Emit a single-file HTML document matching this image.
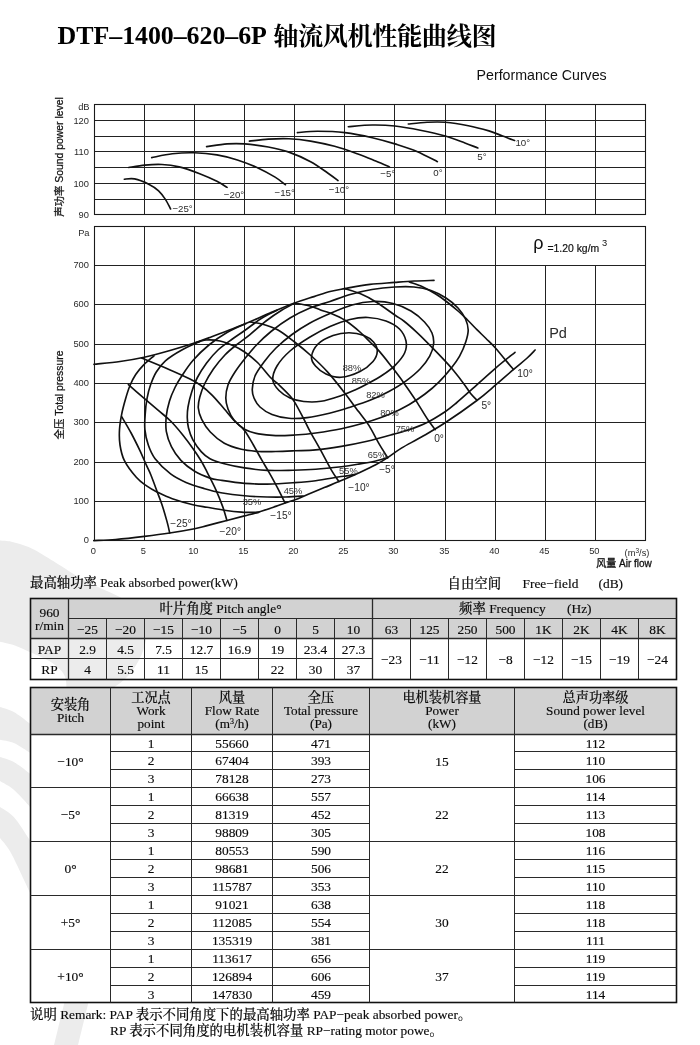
<!DOCTYPE html>
<html lang="zh"><head><meta charset="utf-8"><title>DTF-1400-620-6P 轴流风机性能曲线图</title>
<style>
html,body{margin:0;padding:0;background:#fff;}
body{width:700px;height:1045px;overflow:hidden;position:relative;}
svg{position:absolute;left:0;top:0;display:block;will-change:transform;}
.s{font-family:"Liberation Sans","Noto Sans CJK SC",sans-serif;fill:#2a2a2a;}
.t{font-family:"Liberation Serif","Noto Serif CJK SC",serif;fill:#0a0a0a;stroke:#0a0a0a;stroke-width:0.15px;}
.g line{stroke:#222;stroke-width:1;}
.c path{fill:none;stroke:#111;stroke-width:1.65;stroke-linecap:round;}
.tb line{stroke:#2a2a2a;stroke-width:1;}
</style></head><body>
<svg width="700" height="1045" viewBox="0 0 700 1045">
<g fill="#ececec">
<path d="M0.0 540.6C1.9 540.8 7.6 541.0 11.4 541.7C15.2 542.4 19.1 543.7 22.9 545.0C26.7 546.3 30.5 547.8 34.3 549.7C38.1 551.6 41.9 554.3 45.7 556.6C49.5 558.9 52.0 560.4 57.0 563.4C62.0 566.4 69.7 571.5 75.4 574.9C81.1 578.3 86.1 581.3 91.4 584.0C96.7 586.7 101.4 588.3 107.0 591.0C112.6 593.7 119.8 596.5 125.0 600.0C130.2 603.5 134.7 607.7 138.0 612.0C141.3 616.3 143.7 621.3 145.0 626.0C146.3 630.7 146.8 634.7 146.0 640.0C145.2 645.3 143.0 652.0 140.0 658.0C137.0 664.0 132.5 671.0 128.0 676.0C123.5 681.0 117.7 684.8 113.0 688.0C108.3 691.2 102.2 693.8 100.0 695.0 L66.5 695.0C66.4 692.6 66.6 684.4 66.0 680.7C65.4 677.0 64.7 675.5 63.0 673.0C61.3 670.5 58.5 667.8 55.7 665.5C52.9 663.2 50.7 661.8 46.4 659.5C42.1 657.2 35.0 654.4 29.7 652.0C24.4 649.6 19.9 647.1 14.9 645.4C9.9 643.7 2.5 642.3 0.0 641.7 Z"/>
<path d="M0.0 707.0C2.3 707.8 9.1 709.4 13.8 712.0C18.5 714.6 25.5 720.2 28.4 722.4C31.3 724.6 30.6 724.6 31.0 725.0 L31.0 754.0C30.6 753.6 31.3 753.5 28.4 751.7C25.5 749.9 18.5 745.0 13.8 743.0C9.1 741.0 2.3 740.2 0.0 739.7 Z"/>
<path d="M0.0 757.0C2.3 757.8 9.1 759.4 13.8 762.0C18.5 764.6 25.5 770.2 28.4 772.4C31.3 774.6 30.6 774.6 31.0 775.0 L31.0 809.0C30.6 808.3 31.3 808.2 28.4 805.0C25.5 801.8 18.5 793.7 13.8 789.7C9.1 785.7 2.3 782.5 0.0 781.0 Z"/>
<path d="M0.0 807.0C2.3 808.7 9.1 811.8 13.8 817.0C18.5 822.2 25.5 833.7 28.4 838.0C31.3 842.3 30.6 842.2 31.0 843.0 L31.0 895.0C29.8 892.5 27.4 887.2 24.0 880.0C20.6 872.8 14.3 858.7 10.3 851.7C6.3 844.7 1.7 840.3 0.0 838.0 Z"/>
<path d="M65 1000 L89 1000 L78 1045 L54 1045 Z"/>
</g>
<text x="57.6" y="44.2" textLength="209.3" lengthAdjust="spacing" style="font-family:'Liberation Serif',serif;font-weight:bold;font-size:25.9px;fill:#000">DTF–1400–620–6P</text>
<text x="273.2" y="45.0" textLength="223.4" lengthAdjust="spacing" style="font-family:'Noto Serif CJK SC','Liberation Serif',serif;font-weight:700;font-size:25.2px;fill:#000">轴流风机性能曲线图</text>
<text x="476.6" y="80" class="s" style="font-size:14.2px;fill:#111">Performance Curves</text>
<g class="g">
<line x1="94.5" y1="104.5" x2="94.5" y2="214.5"/>
<line x1="144.5" y1="104.5" x2="144.5" y2="214.5"/>
<line x1="194.5" y1="104.5" x2="194.5" y2="214.5"/>
<line x1="244.5" y1="104.5" x2="244.5" y2="214.5"/>
<line x1="294.5" y1="104.5" x2="294.5" y2="214.5"/>
<line x1="344.5" y1="104.5" x2="344.5" y2="214.5"/>
<line x1="394.5" y1="104.5" x2="394.5" y2="214.5"/>
<line x1="445.5" y1="104.5" x2="445.5" y2="214.5"/>
<line x1="495.5" y1="104.5" x2="495.5" y2="214.5"/>
<line x1="545.5" y1="104.5" x2="545.5" y2="214.5"/>
<line x1="595.5" y1="104.5" x2="595.5" y2="214.5"/>
<line x1="645.5" y1="104.5" x2="645.5" y2="214.5"/>
<line x1="94.5" y1="104.5" x2="645.5" y2="104.5"/>
<line x1="94.5" y1="120.5" x2="645.5" y2="120.5"/>
<line x1="94.5" y1="136.5" x2="645.5" y2="136.5"/>
<line x1="94.5" y1="151.5" x2="645.5" y2="151.5"/>
<line x1="94.5" y1="167.5" x2="645.5" y2="167.5"/>
<line x1="94.5" y1="183.5" x2="645.5" y2="183.5"/>
<line x1="94.5" y1="199.5" x2="645.5" y2="199.5"/>
<line x1="94.5" y1="214.5" x2="645.5" y2="214.5"/>
<line x1="94.5" y1="226.5" x2="94.5" y2="540.5"/>
<line x1="144.5" y1="226.5" x2="144.5" y2="540.5"/>
<line x1="194.5" y1="226.5" x2="194.5" y2="540.5"/>
<line x1="244.5" y1="226.5" x2="244.5" y2="540.5"/>
<line x1="294.5" y1="226.5" x2="294.5" y2="540.5"/>
<line x1="344.5" y1="226.5" x2="344.5" y2="540.5"/>
<line x1="394.5" y1="226.5" x2="394.5" y2="540.5"/>
<line x1="445.5" y1="226.5" x2="445.5" y2="540.5"/>
<line x1="495.5" y1="226.5" x2="495.5" y2="540.5"/>
<line x1="545.5" y1="265.5" x2="545.5" y2="540.5"/>
<line x1="595.5" y1="265.5" x2="595.5" y2="540.5"/>
<line x1="645.5" y1="226.5" x2="645.5" y2="540.5"/>
<line x1="94.5" y1="540.5" x2="645.5" y2="540.5"/>
<line x1="94.5" y1="501.5" x2="645.5" y2="501.5"/>
<line x1="94.5" y1="462.5" x2="645.5" y2="462.5"/>
<line x1="94.5" y1="422.5" x2="645.5" y2="422.5"/>
<line x1="94.5" y1="383.5" x2="645.5" y2="383.5"/>
<line x1="94.5" y1="344.5" x2="645.5" y2="344.5"/>
<line x1="94.5" y1="304.5" x2="645.5" y2="304.5"/>
<line x1="94.5" y1="265.5" x2="645.5" y2="265.5"/>
<line x1="94.5" y1="226.5" x2="645.5" y2="226.5"/>
</g>
<g fill="none" stroke="#1a1a1a" stroke-width="1.1"><rect x="94.5" y="104.5" width="551.0" height="110.0"/><rect x="94.5" y="226.5" width="551.0" height="314.0"/></g>
<g class="c">
<path d="M124.3 179.2C126.0 179.1 130.6 178.1 134.6 178.9C138.6 179.7 144.3 182.0 148.3 184.0C152.3 186.0 155.8 188.3 158.6 190.9C161.4 193.5 163.4 196.4 165.4 199.4C167.4 202.4 169.7 207.4 170.6 209.0"/>
<path d="M128.7 167.5C131.4 167.1 139.3 165.6 144.9 165.1C150.5 164.6 156.3 164.2 162.0 164.5C167.7 164.8 172.8 165.4 179.1 166.9C185.4 168.4 193.4 171.3 199.7 173.7C206.0 176.1 212.3 179.0 216.9 181.3C221.5 183.6 225.4 186.4 227.1 187.4"/>
<path d="M151.7 157.6C155.1 157.0 165.2 154.6 172.3 153.8C179.4 153.0 186.9 152.6 194.3 152.8C201.7 153.0 209.7 153.7 216.9 154.9C224.1 156.1 230.6 157.8 237.4 160.0C244.2 162.2 251.7 165.1 258.0 167.9C264.3 170.8 270.5 174.3 275.1 177.1C279.7 179.9 283.7 183.4 285.4 184.7"/>
<path d="M206.6 146.6C210.0 146.2 220.8 144.3 227.1 143.9C233.4 143.5 237.7 143.4 244.6 143.9C251.5 144.4 260.9 145.6 268.3 147.0C275.7 148.4 281.8 149.7 288.9 152.1C295.9 154.5 304.1 158.2 310.6 161.7C317.1 165.2 323.1 169.8 327.7 173.0C332.3 176.2 336.3 179.3 338.0 180.6"/>
<path d="M249.4 141.1C252.6 140.8 261.7 139.5 268.3 139.1C274.9 138.7 281.8 138.4 288.9 138.7C295.9 139.0 303.0 139.8 310.6 141.1C318.2 142.4 326.6 144.1 334.6 146.3C342.6 148.5 351.8 151.8 358.6 154.2C365.5 156.6 370.6 158.9 375.7 161.0C380.8 163.1 387.1 165.9 389.4 166.9"/>
<path d="M297.4 132.6C300.7 132.4 309.5 131.2 317.4 131.2C325.3 131.2 335.8 131.5 344.9 132.6C354.0 133.7 364.0 135.8 372.3 137.7C380.6 139.6 387.5 141.6 394.9 143.9C402.3 146.2 409.8 148.4 416.9 151.4C424.0 154.4 434.0 160.0 437.4 161.7"/>
<path d="M348.3 126.7C352.3 126.4 364.5 125.1 372.3 125.0C380.1 124.9 386.9 125.1 394.9 126.0C402.9 126.9 411.9 128.5 420.3 130.2C428.7 131.9 437.9 133.9 445.3 136.0C452.7 138.1 459.5 140.9 464.9 142.9C470.3 144.9 475.7 147.2 477.9 148.0"/>
<path d="M408.3 124.0C411.4 123.7 420.9 122.6 427.1 122.3C433.3 122.0 438.4 121.7 445.3 122.3C452.2 122.9 461.0 124.3 468.3 125.7C475.6 127.1 483.2 129.2 488.9 130.9C494.6 132.6 498.3 134.4 502.6 136.0C506.9 137.6 512.6 139.8 514.6 140.5"/>
<path d="M94.0 364.3C98.3 363.8 111.6 362.7 120.0 361.5C128.4 360.3 135.9 359.0 144.2 357.2C152.5 355.4 161.6 352.9 170.0 350.5C178.4 348.1 187.7 345.2 194.4 343.0C201.1 340.8 201.6 340.6 210.0 337.4C218.4 334.2 234.6 328.1 244.6 324.0C254.6 319.9 261.7 316.5 270.0 313.0C278.3 309.5 287.3 305.7 294.6 303.0C301.9 300.3 308.1 298.5 314.0 296.6C319.9 294.7 324.9 292.8 330.0 291.5C335.1 290.2 337.9 289.8 344.6 288.6C351.3 287.4 361.6 285.4 370.0 284.4C378.4 283.4 387.5 283.0 394.8 282.4C402.1 281.8 407.5 281.3 414.0 281.0C420.5 280.7 430.7 280.5 434.0 280.4"/>
<path d="M93.8 540.6C97.5 540.4 107.2 540.2 115.7 539.5C124.2 538.8 135.5 537.5 144.5 536.4C153.5 535.3 161.3 534.3 169.7 533.0C178.0 531.7 188.4 529.9 194.6 528.7C200.8 527.5 201.7 527.0 207.1 525.6C212.5 524.2 220.7 522.1 226.9 520.5C233.1 518.9 239.2 517.3 244.5 515.9C249.8 514.5 253.4 513.7 258.6 512.1C263.8 510.5 271.3 507.9 275.7 506.4C280.1 504.9 281.1 504.4 285.1 503.0C289.1 501.6 295.6 499.5 299.7 497.9C303.8 496.3 305.9 495.3 310.0 493.6C314.1 491.9 319.5 489.6 324.3 487.6C329.1 485.6 333.2 484.0 338.9 481.6C344.6 479.2 352.5 475.8 358.6 473.0C364.7 470.2 370.9 467.4 375.7 464.8C380.5 462.2 383.4 460.4 387.7 457.6C392.0 454.8 395.8 451.5 401.4 448.1C407.0 444.7 414.1 441.2 421.4 437.0C428.7 432.8 435.9 428.9 445.1 422.8C454.4 416.7 468.5 406.8 476.9 400.5C485.3 394.2 489.3 390.4 495.4 385.2C501.5 380.0 508.4 373.8 513.6 369.4C518.8 364.9 523.0 361.7 526.6 358.5C530.2 355.3 533.7 351.4 535.1 350.0"/>
<path d="M121.7 416.7C123.3 419.4 128.1 427.4 131.1 433.0C134.1 438.6 137.1 444.7 139.7 450.1C142.3 455.5 144.7 461.5 146.6 465.6C148.5 469.8 149.2 470.8 150.9 475.0C152.6 479.2 155.1 486.1 156.9 491.0C158.8 495.9 160.3 499.6 162.0 504.7C163.7 509.8 165.8 517.2 167.1 521.9C168.4 526.6 169.3 531.1 169.7 533.0"/>
<path d="M128.4 384.6C131.1 387.0 139.5 394.4 144.5 398.7C149.5 403.0 154.2 407.0 158.6 410.7C162.9 414.4 166.6 417.0 170.6 421.0C174.6 425.0 178.9 430.1 182.6 434.7C186.3 439.3 189.9 444.2 192.9 448.4C195.9 452.6 198.2 456.1 200.6 460.0C203.0 463.9 204.6 467.2 207.1 472.1C209.6 477.0 213.1 483.6 215.7 489.3C218.3 495.0 220.7 501.2 222.6 506.4C224.5 511.6 226.2 518.1 226.9 520.5"/>
<path d="M141.6 358.0C146.2 359.9 160.9 365.9 169.0 369.4C177.1 372.9 184.8 376.4 190.0 379.0C195.2 381.6 196.6 382.3 200.3 385.0C204.0 387.7 208.3 391.3 212.3 395.3C216.3 399.3 220.6 404.7 224.3 409.0C228.0 413.3 231.2 417.4 234.6 421.0C238.0 424.6 241.4 426.4 244.5 430.4C247.6 434.4 250.5 440.0 253.4 445.0C256.3 450.0 259.4 455.9 262.0 460.4C264.6 464.9 266.3 467.6 268.9 472.1C271.5 476.6 274.7 482.5 277.4 487.6C280.1 492.8 283.8 500.4 285.1 503.0"/>
<path d="M194.6 343.0C196.5 342.5 201.8 340.3 206.0 340.0C210.2 339.7 215.3 340.0 220.0 341.0C224.7 342.0 229.9 344.2 234.0 346.0C238.1 347.8 240.6 349.2 244.6 352.0C248.6 354.8 253.8 358.8 258.0 363.0C262.2 367.2 266.5 373.3 270.0 377.0C273.5 380.7 275.9 381.9 279.1 385.0C282.3 388.1 286.8 392.4 289.4 395.3C292.0 398.2 292.3 398.4 294.6 402.1C296.9 405.8 300.5 412.7 303.1 417.6C305.7 422.5 307.0 425.8 310.0 431.3C313.0 436.8 317.4 444.3 320.9 450.7C324.4 457.1 328.1 464.5 331.1 469.6C334.1 474.8 337.6 479.6 338.9 481.6"/>
<path d="M250.0 322.0C252.0 322.3 257.3 322.7 262.0 324.0C266.7 325.3 272.6 327.0 278.0 330.0C283.4 333.0 289.0 337.7 294.6 342.0C300.2 346.3 305.9 351.0 311.4 356.0C316.9 361.0 322.2 366.0 327.7 372.1C333.2 378.2 339.4 386.1 344.5 392.7C349.6 399.3 354.5 406.2 358.6 411.6C362.7 417.1 365.5 420.0 368.9 425.4C372.3 430.8 376.0 438.5 379.1 443.9C382.2 449.3 386.3 455.3 387.7 457.6"/>
<path d="M294.6 303.0C297.2 303.5 305.4 304.8 310.0 306.0C314.6 307.2 318.7 309.3 322.0 310.5C325.3 311.7 326.2 311.4 330.0 313.0C333.8 314.6 339.6 316.8 344.6 320.0C349.6 323.2 355.8 328.3 360.0 332.0C364.2 335.7 366.8 338.8 370.0 342.0C373.2 345.2 375.7 347.2 379.4 351.4C383.1 355.6 387.9 361.9 392.0 367.1C396.1 372.4 399.9 377.4 403.8 382.9C407.7 388.4 411.6 393.9 415.6 400.1C419.7 406.3 424.8 415.1 428.1 420.0C431.4 424.9 434.0 428.0 435.2 429.6"/>
<path d="M344.6 288.6C347.2 289.4 354.8 291.4 360.0 293.6C365.2 295.8 370.2 298.4 376.0 302.0C381.8 305.6 390.2 311.8 394.8 315.0C399.4 318.2 400.1 318.1 403.8 321.0C407.5 323.9 412.5 328.3 417.1 332.6C421.7 336.9 426.7 342.0 431.3 346.7C435.9 351.4 441.3 357.0 445.0 360.9C448.7 364.8 450.1 366.4 453.3 370.3C456.5 374.2 461.4 380.5 464.3 384.4C467.2 388.3 468.5 390.9 470.6 393.5C472.7 396.1 475.8 399.0 476.9 400.1"/>
<path d="M409.4 282.0C411.5 282.8 417.6 284.5 422.0 286.5C426.4 288.5 431.5 291.4 435.7 294.0C439.9 296.6 443.2 299.1 447.0 302.0C450.8 304.9 455.1 308.4 458.6 311.5C462.1 314.6 464.9 317.5 468.0 320.5C471.1 323.5 473.9 326.6 476.9 329.6C479.9 332.6 482.9 335.4 486.0 338.5C489.1 341.6 492.0 344.2 495.4 348.0C498.8 351.8 503.6 357.8 506.6 361.4C509.6 365.0 512.3 368.1 513.4 369.4"/>
<path d="M154.0 355.8C152.3 357.3 146.8 361.7 143.7 364.8C140.6 367.9 138.0 371.1 135.7 374.5C133.4 377.9 131.7 381.5 130.0 385.5C128.3 389.5 127.0 393.9 125.6 398.7C124.2 403.5 122.7 409.0 121.7 414.1C120.7 419.2 119.8 424.5 119.5 429.6C119.2 434.8 119.2 439.9 120.0 445.0C120.8 450.1 121.6 455.0 124.3 460.4C127.0 465.8 132.6 473.1 136.3 477.3C140.0 481.6 143.2 483.5 146.6 485.9C150.0 488.3 152.6 489.8 156.9 491.9C161.2 494.0 166.3 496.6 172.3 498.7C178.3 500.8 187.1 503.3 192.9 504.7C198.7 506.1 201.9 506.4 207.1 507.3C212.3 508.2 218.6 509.4 224.3 510.2C230.0 511.0 235.7 511.7 241.4 512.1C247.1 512.5 255.7 512.4 258.6 512.4"/>
<path d="M200.0 341.5C196.9 342.9 187.2 347.0 181.4 350.2C175.6 353.4 169.6 357.2 165.4 360.8C161.2 364.4 158.8 368.0 156.3 372.0C153.8 376.0 152.1 380.6 150.5 385.0C148.9 389.4 147.9 393.8 147.0 398.7C146.1 403.6 145.5 409.0 145.2 414.1C144.8 419.2 144.4 424.5 144.9 429.6C145.4 434.8 146.6 440.1 148.3 445.0C150.0 449.9 151.4 453.9 155.1 458.7C158.8 463.5 165.4 469.9 170.6 473.9C175.8 477.8 180.5 480.0 186.0 482.4C191.5 484.8 197.9 486.7 203.7 488.4C209.5 490.1 214.1 491.5 220.9 492.7C227.7 493.9 236.8 495.1 244.5 495.8C252.2 496.5 260.2 496.8 267.1 497.0C274.0 497.2 280.0 497.2 286.0 497.0C292.0 496.8 300.2 496.2 303.1 496.0"/>
<path d="M246.0 323.5C242.8 325.0 233.2 328.9 227.0 332.5C220.8 336.1 214.6 340.3 208.9 345.0C203.2 349.7 197.5 355.2 192.9 360.5C188.3 365.8 184.4 372.0 181.4 376.5C178.4 381.0 177.0 383.4 175.0 387.5C173.0 391.6 170.9 396.3 169.5 401.0C168.1 405.7 166.8 410.8 166.3 415.9C165.8 420.9 165.5 426.2 166.3 431.3C167.2 436.4 169.0 441.9 171.4 446.7C173.8 451.5 177.0 456.3 180.9 460.4C184.8 464.5 189.8 468.4 194.6 471.3C199.4 474.2 205.6 476.6 210.0 478.1C214.4 479.6 215.2 479.4 220.9 480.3C226.7 481.2 236.8 482.8 244.5 483.4C252.2 484.0 259.0 484.2 267.1 484.1C275.2 484.0 284.8 483.4 292.9 482.8C301.0 482.2 308.2 481.7 315.7 480.7C323.2 479.7 332.9 477.8 338.0 477.0C343.1 476.2 343.8 476.3 346.6 475.9C349.5 475.5 353.7 474.6 355.1 474.4"/>
<path d="M277.0 310.3C274.5 311.6 267.3 314.7 262.0 318.0C256.7 321.3 250.5 326.4 245.4 330.0C240.3 333.6 236.3 336.2 231.7 339.5C227.1 342.8 222.2 346.1 218.0 350.0C213.8 353.9 210.0 358.4 206.6 363.0C203.2 367.6 199.9 372.7 197.4 377.5C194.9 382.3 193.3 387.1 191.7 392.0C190.1 396.9 188.7 402.7 188.0 407.0C187.3 411.3 187.2 414.5 187.3 418.0C187.4 421.5 187.6 424.4 188.5 428.0C189.4 431.6 190.8 435.9 192.9 439.9C195.1 443.9 198.6 448.8 201.4 451.9C204.2 455.0 206.2 456.7 210.0 458.7C213.8 460.7 218.6 462.2 224.3 463.7C230.1 465.2 237.4 466.8 244.5 467.9C251.6 469.0 259.0 470.0 267.1 470.4C275.2 470.8 284.8 470.4 292.9 470.2C301.0 470.0 307.6 469.8 315.7 469.2C323.8 468.6 334.2 467.5 341.4 466.7C348.5 465.9 352.9 465.1 358.6 464.1C364.3 463.2 370.9 462.1 375.7 461.0C380.5 459.9 385.7 458.2 387.7 457.6"/>
<path d="M295.0 303.0C292.8 304.2 286.8 307.0 282.0 310.0C277.2 313.0 271.3 316.9 266.0 321.0C260.7 325.1 254.9 330.6 250.0 334.6C245.1 338.6 240.5 341.6 236.3 345.0C232.1 348.4 228.7 351.0 224.9 355.0C221.1 359.0 216.8 364.2 213.4 369.0C210.1 373.8 207.1 378.8 204.8 383.5C202.5 388.2 200.9 392.9 199.8 397.0C198.7 401.1 198.0 404.3 198.3 408.0C198.6 411.7 199.7 415.3 201.7 419.3C203.7 423.3 206.5 428.0 210.3 432.0C214.1 436.0 219.1 440.4 224.3 443.3C229.5 446.2 235.7 447.9 241.4 449.3C247.1 450.7 252.9 451.1 258.6 451.5C264.3 451.9 269.7 451.6 275.7 451.5C281.7 451.4 287.9 451.1 294.6 450.8C301.3 450.5 307.9 450.6 315.7 449.9C323.5 449.2 332.8 447.8 341.4 446.4C350.0 445.0 358.5 443.3 367.1 441.3C375.7 439.3 385.8 436.4 392.9 434.4C400.0 432.4 404.3 431.4 410.0 429.4C415.7 427.4 421.1 425.4 427.0 422.5C432.9 419.6 440.2 414.9 445.1 411.7C450.0 408.4 451.8 406.8 456.3 403.0C460.8 399.2 465.8 394.7 472.3 388.9C478.8 383.1 488.3 374.4 495.4 368.3C502.5 362.2 511.7 355.0 515.0 352.3"/>
<path d="M225.8 398.0C225.8 394.0 226.5 389.3 228.0 385.0C229.5 380.7 232.2 376.3 235.0 372.0C237.8 367.7 241.1 363.4 244.6 359.0C248.1 354.6 251.6 350.1 256.0 345.5C260.4 340.9 265.3 336.1 271.0 331.5C276.7 326.9 283.5 321.9 290.0 318.0C296.5 314.1 303.3 310.8 310.0 308.0C316.7 305.2 323.3 303.8 330.0 301.5C336.7 299.2 343.0 296.5 350.0 294.5C357.0 292.5 364.5 290.8 372.0 289.5C379.5 288.2 387.8 287.4 394.8 287.0C401.8 286.6 408.0 286.4 414.0 287.0C420.0 287.6 425.7 288.7 431.0 290.5C436.3 292.3 441.5 295.1 446.0 298.0C450.5 300.9 454.8 304.5 458.0 308.0C461.2 311.5 463.8 315.3 465.5 319.0C467.2 322.7 468.1 326.2 468.2 330.0C468.3 333.8 467.3 337.1 465.9 341.5C464.5 345.9 462.0 351.8 459.6 356.1C457.2 360.4 455.1 363.2 451.7 367.5C448.3 371.8 443.6 377.4 439.1 381.8C434.7 386.2 430.0 390.2 425.0 394.0C420.0 397.8 414.3 401.5 409.3 404.5C404.3 407.5 399.8 409.6 395.1 411.8C390.4 414.0 386.2 415.6 381.0 417.5C375.8 419.4 370.6 421.1 364.0 423.0C357.4 424.9 349.4 427.0 341.4 428.7C333.3 430.4 323.5 431.9 315.7 433.0C307.9 434.1 301.3 434.6 294.6 435.0C287.9 435.4 281.7 435.8 275.7 435.6C269.7 435.4 263.7 434.9 258.6 433.9C253.5 432.9 249.1 431.8 245.0 429.5C240.9 427.2 236.8 423.4 234.0 420.0C231.2 416.6 229.4 412.7 228.0 409.0C226.6 405.3 225.8 402.0 225.8 398.0Z"/>
<path d="M252.3 389.0C252.5 385.3 253.1 380.5 255.0 376.0C256.9 371.5 260.5 366.7 264.0 362.0C267.5 357.3 271.3 352.6 276.0 348.0C280.7 343.4 286.3 338.7 292.0 334.5C297.7 330.3 303.7 326.5 310.0 323.0C316.3 319.5 323.0 316.5 330.0 313.5C337.0 310.5 344.8 307.0 352.0 305.0C359.2 303.0 366.2 301.8 373.0 301.5C379.8 301.2 386.7 301.9 393.0 303.5C399.3 305.1 405.8 307.9 411.0 311.0C416.2 314.1 421.0 318.3 424.5 322.0C428.0 325.7 430.5 329.3 432.0 333.0C433.5 336.7 434.0 340.1 433.6 344.0C433.2 347.9 431.9 352.0 429.7 356.1C427.5 360.2 424.2 364.6 420.3 368.7C416.4 372.8 411.3 377.0 406.1 380.8C400.9 384.6 394.9 388.2 388.9 391.5C382.9 394.8 376.5 397.7 370.0 400.3C363.5 402.9 356.8 405.0 350.0 407.2C343.2 409.4 336.5 411.6 329.4 413.3C322.2 415.0 313.8 416.8 307.1 417.6C300.4 418.4 294.9 418.8 289.0 418.3C283.1 417.8 276.8 416.4 272.0 414.5C267.2 412.6 263.0 409.8 260.0 407.0C257.0 404.2 255.3 401.0 254.0 398.0C252.7 395.0 252.1 392.7 252.3 389.0Z"/>
<path d="M272.8 380.0C272.5 375.9 274.1 370.8 277.0 366.0C279.9 361.2 284.5 355.8 290.0 351.0C295.5 346.2 303.3 341.1 310.0 337.0C316.7 332.9 323.3 329.4 330.0 326.5C336.7 323.6 343.7 321.0 350.0 319.5C356.3 318.0 362.0 317.2 368.0 317.5C374.0 317.8 380.8 319.1 386.0 321.0C391.2 322.9 396.2 325.7 399.5 329.0C402.8 332.3 405.1 337.0 406.0 341.0C406.9 345.0 406.4 348.9 404.6 353.0C402.8 357.1 398.8 361.6 395.1 365.3C391.4 369.0 387.1 372.0 382.6 375.0C378.1 378.0 372.6 381.0 368.0 383.5C363.4 386.0 359.4 388.0 355.0 390.0C350.6 392.0 347.1 393.6 341.4 395.5C335.7 397.4 327.3 400.3 321.0 401.3C314.7 402.3 308.9 402.1 303.7 401.5C298.5 400.9 294.1 399.8 290.0 398.0C285.9 396.2 281.9 393.5 279.0 390.5C276.1 387.5 273.1 384.1 272.8 380.0Z"/>
<path d="M311.5 357.0C311.9 353.3 314.4 347.6 318.0 344.0C321.6 340.4 327.8 337.4 333.0 335.5C338.2 333.6 343.8 332.7 349.0 332.7C354.2 332.7 359.9 333.9 364.0 335.5C368.1 337.1 371.3 339.4 373.5 342.0C375.7 344.6 377.4 347.8 377.3 351.0C377.2 354.2 375.9 358.1 373.0 361.5C370.1 364.9 365.3 368.9 360.0 371.5C354.7 374.1 346.7 376.9 341.0 377.3C335.3 377.7 330.2 375.9 326.0 374.0C321.8 372.1 317.9 368.8 315.5 366.0C313.1 363.2 311.1 360.7 311.5 357.0Z"/>
</g>
<text x="89.5" y="109.8" class="s" text-anchor="end" style="font-size:9.3px;">dB</text>
<text x="88.9" y="123.6" class="s" text-anchor="end" style="font-size:9.3px;">120</text>
<text x="88.9" y="154.6" class="s" text-anchor="end" style="font-size:9.3px;">110</text>
<text x="88.9" y="186.6" class="s" text-anchor="end" style="font-size:9.3px;">100</text>
<text x="88.9" y="217.6" class="s" text-anchor="end" style="font-size:9.3px;">90</text>
<text x="89.5" y="236.0" class="s" text-anchor="end" style="font-size:9.3px;">Pa</text>
<text x="88.9" y="542.7" class="s" text-anchor="end" style="font-size:9.3px;">0</text>
<text x="88.9" y="503.7" class="s" text-anchor="end" style="font-size:9.3px;">100</text>
<text x="88.9" y="464.7" class="s" text-anchor="end" style="font-size:9.3px;">200</text>
<text x="88.9" y="424.7" class="s" text-anchor="end" style="font-size:9.3px;">300</text>
<text x="88.9" y="385.7" class="s" text-anchor="end" style="font-size:9.3px;">400</text>
<text x="88.9" y="346.7" class="s" text-anchor="end" style="font-size:9.3px;">500</text>
<text x="88.9" y="306.7" class="s" text-anchor="end" style="font-size:9.3px;">600</text>
<text x="88.9" y="267.7" class="s" text-anchor="end" style="font-size:9.3px;">700</text>
<text x="93.3" y="554.2" class="s" text-anchor="middle" style="font-size:9.3px;">0</text>
<text x="143.3" y="554.2" class="s" text-anchor="middle" style="font-size:9.3px;">5</text>
<text x="193.3" y="554.2" class="s" text-anchor="middle" style="font-size:9.3px;">10</text>
<text x="243.3" y="554.2" class="s" text-anchor="middle" style="font-size:9.3px;">15</text>
<text x="293.3" y="554.2" class="s" text-anchor="middle" style="font-size:9.3px;">20</text>
<text x="343.3" y="554.2" class="s" text-anchor="middle" style="font-size:9.3px;">25</text>
<text x="393.3" y="554.2" class="s" text-anchor="middle" style="font-size:9.3px;">30</text>
<text x="444.3" y="554.2" class="s" text-anchor="middle" style="font-size:9.3px;">35</text>
<text x="494.3" y="554.2" class="s" text-anchor="middle" style="font-size:9.3px;">40</text>
<text x="544.3" y="554.2" class="s" text-anchor="middle" style="font-size:9.3px;">45</text>
<text x="594.3" y="554.2" class="s" text-anchor="middle" style="font-size:9.3px;">50</text>
<text x="637.0" y="555.5" class="s" text-anchor="middle" style="font-size:9.3px;">(m<tspan font-size="6.5px" dy="-3">3</tspan><tspan dy="3">/s)</tspan></text>
<text x="624.0" y="566.6" class="s" text-anchor="middle" style="font-size:10px;fill:#111;stroke:#111;stroke-width:0.3px">风量 Air flow</text>
<text transform="translate(62.8,157) rotate(-90)" class="s" text-anchor="middle" style="font-size:10.4px;fill:#111;stroke:#111;stroke-width:0.25px">声功率 Sound power level</text>
<text transform="translate(62.8,395) rotate(-90)" class="s" text-anchor="middle" style="font-size:10.4px;fill:#111;stroke:#111;stroke-width:0.25px">全压 Total pressure</text>
<text x="533.3" y="248.8" class="s" style="font-size:18px;fill:#111">ρ</text>
<text x="547.5" y="251.8" class="s" style="font-size:10.4px;fill:#111;stroke:#111;stroke-width:0.2px">=1.20 kg/m</text>
<text x="602" y="246.3" class="s" style="font-size:9.3px;fill:#111">3</text>
<text x="558.0" y="338.3" class="s" text-anchor="middle" style="font-size:14.5px;">Pd</text>
<text x="181.0" y="527.0" class="s" text-anchor="middle" style="font-size:10.2px;">−25°</text>
<text x="230.3" y="534.5" class="s" text-anchor="middle" style="font-size:10.2px;">−20°</text>
<text x="281.0" y="518.5" class="s" text-anchor="middle" style="font-size:10.2px;">−15°</text>
<text x="359.0" y="490.5" class="s" text-anchor="middle" style="font-size:10.2px;">−10°</text>
<text x="387.0" y="473.0" class="s" text-anchor="middle" style="font-size:10.2px;">−5°</text>
<text x="439.0" y="442.4" class="s" text-anchor="middle" style="font-size:10.2px;">0°</text>
<text x="486.3" y="408.5" class="s" text-anchor="middle" style="font-size:10.2px;">5°</text>
<text x="525.0" y="377.4" class="s" text-anchor="middle" style="font-size:10.2px;">10°</text>
<text x="252.0" y="504.8" class="s" text-anchor="middle" style="font-size:9.3px;fill:#333">35%</text>
<text x="293.0" y="493.8" class="s" text-anchor="middle" style="font-size:9.3px;fill:#333">45%</text>
<text x="348.4" y="474.0" class="s" text-anchor="middle" style="font-size:9.3px;fill:#333">55%</text>
<text x="377.0" y="457.8" class="s" text-anchor="middle" style="font-size:9.3px;fill:#333">65%</text>
<text x="405.0" y="431.5" class="s" text-anchor="middle" style="font-size:9.3px;fill:#333">75%</text>
<text x="389.5" y="416.0" class="s" text-anchor="middle" style="font-size:9.3px;fill:#333">80%</text>
<text x="375.5" y="397.8" class="s" text-anchor="middle" style="font-size:9.3px;fill:#333">82%</text>
<text x="361.0" y="383.7" class="s" text-anchor="middle" style="font-size:9.3px;fill:#333">85%</text>
<text x="352.0" y="371.2" class="s" text-anchor="middle" style="font-size:9.3px;fill:#333">88%</text>
<text x="182.6" y="212.4" class="s" text-anchor="middle" style="font-size:9.7px;">−25°</text>
<text x="234.0" y="198.4" class="s" text-anchor="middle" style="font-size:9.7px;">−20°</text>
<text x="284.7" y="196.0" class="s" text-anchor="middle" style="font-size:9.7px;">−15°</text>
<text x="338.9" y="193.2" class="s" text-anchor="middle" style="font-size:9.7px;">−10°</text>
<text x="387.7" y="177.1" class="s" text-anchor="middle" style="font-size:9.7px;">−5°</text>
<text x="437.9" y="176.4" class="s" text-anchor="middle" style="font-size:9.7px;">0°</text>
<text x="482.0" y="160.0" class="s" text-anchor="middle" style="font-size:9.7px;">5°</text>
<text x="522.8" y="146.3" class="s" text-anchor="middle" style="font-size:9.7px;">10°</text>
<text x="30.0" y="587.3" class="t" text-anchor="start" style="font-size:13.4px;"><tspan font-weight="500">最高轴功率</tspan> <tspan font-size="12.9px">Peak absorbed power(kW)</tspan></text>
<text x="447.5" y="587.8" class="t" style="font-size:13.4px;font-weight:500">自由空间</text>
<text x="522.5" y="587.8" class="t" style="font-size:13.4px">Free−field</text>
<text x="598.5" y="587.8" class="t" style="font-size:13.4px">(dB)</text>
<rect x="30.5" y="598.5" width="646.0" height="40.0" fill="#d2d2d2"/>
<g class="tb">
<rect x="30.5" y="598.5" width="646.0" height="81.0" fill="none" stroke="#111" stroke-width="1.6"/>
<line x1="68.5" y1="618.5" x2="676.5" y2="618.5"/>
<line x1="30.5" y1="638.5" x2="676.5" y2="638.5" style="stroke-width:1.3"/>
<line x1="30.5" y1="658.5" x2="372.5" y2="658.5"/>
<line x1="68.5" y1="598.5" x2="68.5" y2="679.5" style="stroke-width:1.3"/>
<line x1="106.5" y1="618.5" x2="106.5" y2="679.5"/>
<line x1="144.5" y1="618.5" x2="144.5" y2="679.5"/>
<line x1="182.5" y1="618.5" x2="182.5" y2="679.5"/>
<line x1="220.5" y1="618.5" x2="220.5" y2="679.5"/>
<line x1="258.5" y1="618.5" x2="258.5" y2="679.5"/>
<line x1="296.5" y1="618.5" x2="296.5" y2="679.5"/>
<line x1="334.5" y1="618.5" x2="334.5" y2="679.5"/>
<line x1="372.5" y1="598.5" x2="372.5" y2="679.5" style="stroke-width:1.3"/>
<line x1="410.5" y1="618.5" x2="410.5" y2="679.5"/>
<line x1="448.5" y1="618.5" x2="448.5" y2="679.5"/>
<line x1="486.5" y1="618.5" x2="486.5" y2="679.5"/>
<line x1="524.5" y1="618.5" x2="524.5" y2="679.5"/>
<line x1="562.5" y1="618.5" x2="562.5" y2="679.5"/>
<line x1="600.5" y1="618.5" x2="600.5" y2="679.5"/>
<line x1="638.5" y1="618.5" x2="638.5" y2="679.5"/>
</g>
<text x="49.5" y="617.0" class="t" text-anchor="middle" style="font-size:13.4px;">960</text>
<text x="49.5" y="630.3" class="t" text-anchor="middle" style="font-size:13.4px;">r/min</text>
<text x="49.5" y="654.2" class="t" text-anchor="middle" style="font-size:13.4px;">PAP</text>
<text x="49.5" y="674.4" class="t" text-anchor="middle" style="font-size:13.4px;">RP</text>
<text x="220.5" y="613.2" class="t" text-anchor="middle" style="font-size:13.4px;"><tspan font-weight="500">叶片角度</tspan> Pitch angle°</text>
<text x="459" y="613.2" class="t" style="font-size:13.4px"><tspan font-weight="500">频率</tspan> Frequency</text>
<text x="567" y="613.2" class="t" style="font-size:13.4px">(Hz)</text>
<text x="87.5" y="633.5" class="t" text-anchor="middle" style="font-size:13.4px;">−25</text>
<text x="87.5" y="654.2" class="t" text-anchor="middle" style="font-size:13.4px;">2.9</text>
<text x="87.5" y="674.4" class="t" text-anchor="middle" style="font-size:13.4px;">4</text>
<text x="125.5" y="633.5" class="t" text-anchor="middle" style="font-size:13.4px;">−20</text>
<text x="125.5" y="654.2" class="t" text-anchor="middle" style="font-size:13.4px;">4.5</text>
<text x="125.5" y="674.4" class="t" text-anchor="middle" style="font-size:13.4px;">5.5</text>
<text x="163.5" y="633.5" class="t" text-anchor="middle" style="font-size:13.4px;">−15</text>
<text x="163.5" y="654.2" class="t" text-anchor="middle" style="font-size:13.4px;">7.5</text>
<text x="163.5" y="674.4" class="t" text-anchor="middle" style="font-size:13.4px;">11</text>
<text x="201.5" y="633.5" class="t" text-anchor="middle" style="font-size:13.4px;">−10</text>
<text x="201.5" y="654.2" class="t" text-anchor="middle" style="font-size:13.4px;">12.7</text>
<text x="201.5" y="674.4" class="t" text-anchor="middle" style="font-size:13.4px;">15</text>
<text x="239.5" y="633.5" class="t" text-anchor="middle" style="font-size:13.4px;">−5</text>
<text x="239.5" y="654.2" class="t" text-anchor="middle" style="font-size:13.4px;">16.9</text>
<text x="277.5" y="633.5" class="t" text-anchor="middle" style="font-size:13.4px;">0</text>
<text x="277.5" y="654.2" class="t" text-anchor="middle" style="font-size:13.4px;">19</text>
<text x="277.5" y="674.4" class="t" text-anchor="middle" style="font-size:13.4px;">22</text>
<text x="315.5" y="633.5" class="t" text-anchor="middle" style="font-size:13.4px;">5</text>
<text x="315.5" y="654.2" class="t" text-anchor="middle" style="font-size:13.4px;">23.4</text>
<text x="315.5" y="674.4" class="t" text-anchor="middle" style="font-size:13.4px;">30</text>
<text x="353.5" y="633.5" class="t" text-anchor="middle" style="font-size:13.4px;">10</text>
<text x="353.5" y="654.2" class="t" text-anchor="middle" style="font-size:13.4px;">27.3</text>
<text x="353.5" y="674.4" class="t" text-anchor="middle" style="font-size:13.4px;">37</text>
<text x="391.5" y="633.5" class="t" text-anchor="middle" style="font-size:13.4px;">63</text>
<text x="391.5" y="663.8" class="t" text-anchor="middle" style="font-size:13.4px;">−23</text>
<text x="429.5" y="633.5" class="t" text-anchor="middle" style="font-size:13.4px;">125</text>
<text x="429.5" y="663.8" class="t" text-anchor="middle" style="font-size:13.4px;">−11</text>
<text x="467.5" y="633.5" class="t" text-anchor="middle" style="font-size:13.4px;">250</text>
<text x="467.5" y="663.8" class="t" text-anchor="middle" style="font-size:13.4px;">−12</text>
<text x="505.5" y="633.5" class="t" text-anchor="middle" style="font-size:13.4px;">500</text>
<text x="505.5" y="663.8" class="t" text-anchor="middle" style="font-size:13.4px;">−8</text>
<text x="543.5" y="633.5" class="t" text-anchor="middle" style="font-size:13.4px;">1K</text>
<text x="543.5" y="663.8" class="t" text-anchor="middle" style="font-size:13.4px;">−12</text>
<text x="581.5" y="633.5" class="t" text-anchor="middle" style="font-size:13.4px;">2K</text>
<text x="581.5" y="663.8" class="t" text-anchor="middle" style="font-size:13.4px;">−15</text>
<text x="619.5" y="633.5" class="t" text-anchor="middle" style="font-size:13.4px;">4K</text>
<text x="619.5" y="663.8" class="t" text-anchor="middle" style="font-size:13.4px;">−19</text>
<text x="657.5" y="633.5" class="t" text-anchor="middle" style="font-size:13.4px;">8K</text>
<text x="657.5" y="663.8" class="t" text-anchor="middle" style="font-size:13.4px;">−24</text>
<rect x="30.5" y="687.5" width="646.0" height="315.0" fill="#fff"/>
<rect x="30.5" y="687.5" width="646.0" height="47.0" fill="#d2d2d2"/>
<g class="tb">
<rect x="30.5" y="687.5" width="646.0" height="315.0" fill="none" stroke="#111" stroke-width="1.6"/>
<line x1="110.5" y1="687.5" x2="110.5" y2="1002.5"/>
<line x1="191.5" y1="687.5" x2="191.5" y2="1002.5"/>
<line x1="272.5" y1="687.5" x2="272.5" y2="1002.5"/>
<line x1="369.5" y1="687.5" x2="369.5" y2="1002.5"/>
<line x1="514.5" y1="687.5" x2="514.5" y2="1002.5"/>
<line x1="30.5" y1="734.5" x2="676.5" y2="734.5" style="stroke-width:1.3"/>
<line x1="110.5" y1="751.5" x2="369.5" y2="751.5"/>
<line x1="514.5" y1="751.5" x2="676.5" y2="751.5"/>
<line x1="110.5" y1="769.5" x2="369.5" y2="769.5"/>
<line x1="514.5" y1="769.5" x2="676.5" y2="769.5"/>
<line x1="30.5" y1="787.5" x2="676.5" y2="787.5"/>
<line x1="110.5" y1="805.5" x2="369.5" y2="805.5"/>
<line x1="514.5" y1="805.5" x2="676.5" y2="805.5"/>
<line x1="110.5" y1="823.5" x2="369.5" y2="823.5"/>
<line x1="514.5" y1="823.5" x2="676.5" y2="823.5"/>
<line x1="30.5" y1="841.5" x2="676.5" y2="841.5"/>
<line x1="110.5" y1="859.5" x2="369.5" y2="859.5"/>
<line x1="514.5" y1="859.5" x2="676.5" y2="859.5"/>
<line x1="110.5" y1="877.5" x2="369.5" y2="877.5"/>
<line x1="514.5" y1="877.5" x2="676.5" y2="877.5"/>
<line x1="30.5" y1="895.5" x2="676.5" y2="895.5"/>
<line x1="110.5" y1="913.5" x2="369.5" y2="913.5"/>
<line x1="514.5" y1="913.5" x2="676.5" y2="913.5"/>
<line x1="110.5" y1="931.5" x2="369.5" y2="931.5"/>
<line x1="514.5" y1="931.5" x2="676.5" y2="931.5"/>
<line x1="30.5" y1="949.5" x2="676.5" y2="949.5"/>
<line x1="110.5" y1="967.5" x2="369.5" y2="967.5"/>
<line x1="514.5" y1="967.5" x2="676.5" y2="967.5"/>
<line x1="110.5" y1="985.5" x2="369.5" y2="985.5"/>
<line x1="514.5" y1="985.5" x2="676.5" y2="985.5"/>
</g>
<text x="70.5" y="708.5" class="t" text-anchor="middle" style="font-size:13.2px;"><tspan font-weight="500">安装角</tspan></text>
<text x="70.5" y="721.5" class="t" text-anchor="middle" style="font-size:13.2px;">Pitch</text>
<text x="151.0" y="701.8" class="t" text-anchor="middle" style="font-size:13.2px;"><tspan font-weight="500">工况点</tspan></text>
<text x="151.0" y="714.6" class="t" text-anchor="middle" style="font-size:13.2px;">Work</text>
<text x="151.0" y="728.0" class="t" text-anchor="middle" style="font-size:13.2px;">point</text>
<text x="232.0" y="701.8" class="t" text-anchor="middle" style="font-size:13.2px;"><tspan font-weight="500">风量</tspan></text>
<text x="232.0" y="714.6" class="t" text-anchor="middle" style="font-size:13.2px;">Flow Rate</text>
<text x="232.0" y="728.0" class="t" text-anchor="middle" style="font-size:13.2px;">(m<tspan font-size="8px" dy="-4">3</tspan><tspan dy="4">/h)</tspan></text>
<text x="321.0" y="701.8" class="t" text-anchor="middle" style="font-size:13.2px;"><tspan font-weight="500">全压</tspan></text>
<text x="321.0" y="714.6" class="t" text-anchor="middle" style="font-size:13.2px;">Total pressure</text>
<text x="321.0" y="728.0" class="t" text-anchor="middle" style="font-size:13.2px;">(Pa)</text>
<text x="442.0" y="701.8" class="t" text-anchor="middle" style="font-size:13.2px;"><tspan font-weight="500">电机装机容量</tspan></text>
<text x="442.0" y="714.6" class="t" text-anchor="middle" style="font-size:13.2px;">Power</text>
<text x="442.0" y="728.0" class="t" text-anchor="middle" style="font-size:13.2px;">(kW)</text>
<text x="595.5" y="701.8" class="t" text-anchor="middle" style="font-size:13.2px;"><tspan font-weight="500">总声功率级</tspan></text>
<text x="595.5" y="714.6" class="t" text-anchor="middle" style="font-size:13.2px;">Sound power level</text>
<text x="595.5" y="728.0" class="t" text-anchor="middle" style="font-size:13.2px;">(dB)</text>
<text x="70.5" y="765.9" class="t" text-anchor="middle" style="font-size:13.4px;">−10°</text>
<text x="442.0" y="765.9" class="t" text-anchor="middle" style="font-size:13.4px;">15</text>
<text x="70.5" y="818.9" class="t" text-anchor="middle" style="font-size:13.4px;">−5°</text>
<text x="442.0" y="818.9" class="t" text-anchor="middle" style="font-size:13.4px;">22</text>
<text x="70.5" y="872.9" class="t" text-anchor="middle" style="font-size:13.4px;">0°</text>
<text x="442.0" y="872.9" class="t" text-anchor="middle" style="font-size:13.4px;">22</text>
<text x="70.5" y="926.9" class="t" text-anchor="middle" style="font-size:13.4px;">+5°</text>
<text x="442.0" y="926.9" class="t" text-anchor="middle" style="font-size:13.4px;">30</text>
<text x="70.5" y="980.9" class="t" text-anchor="middle" style="font-size:13.4px;">+10°</text>
<text x="442.0" y="980.9" class="t" text-anchor="middle" style="font-size:13.4px;">37</text>
<text x="151.0" y="748.1" class="t" text-anchor="middle" style="font-size:13.4px;">1</text>
<text x="232.0" y="748.1" class="t" text-anchor="middle" style="font-size:13.4px;">55660</text>
<text x="321.0" y="748.1" class="t" text-anchor="middle" style="font-size:13.4px;">471</text>
<text x="595.5" y="748.1" class="t" text-anchor="middle" style="font-size:13.4px;">112</text>
<text x="151.0" y="765.1" class="t" text-anchor="middle" style="font-size:13.4px;">2</text>
<text x="232.0" y="765.1" class="t" text-anchor="middle" style="font-size:13.4px;">67404</text>
<text x="321.0" y="765.1" class="t" text-anchor="middle" style="font-size:13.4px;">393</text>
<text x="595.5" y="765.1" class="t" text-anchor="middle" style="font-size:13.4px;">110</text>
<text x="151.0" y="783.1" class="t" text-anchor="middle" style="font-size:13.4px;">3</text>
<text x="232.0" y="783.1" class="t" text-anchor="middle" style="font-size:13.4px;">78128</text>
<text x="321.0" y="783.1" class="t" text-anchor="middle" style="font-size:13.4px;">273</text>
<text x="595.5" y="783.1" class="t" text-anchor="middle" style="font-size:13.4px;">106</text>
<text x="151.0" y="801.1" class="t" text-anchor="middle" style="font-size:13.4px;">1</text>
<text x="232.0" y="801.1" class="t" text-anchor="middle" style="font-size:13.4px;">66638</text>
<text x="321.0" y="801.1" class="t" text-anchor="middle" style="font-size:13.4px;">557</text>
<text x="595.5" y="801.1" class="t" text-anchor="middle" style="font-size:13.4px;">114</text>
<text x="151.0" y="819.1" class="t" text-anchor="middle" style="font-size:13.4px;">2</text>
<text x="232.0" y="819.1" class="t" text-anchor="middle" style="font-size:13.4px;">81319</text>
<text x="321.0" y="819.1" class="t" text-anchor="middle" style="font-size:13.4px;">452</text>
<text x="595.5" y="819.1" class="t" text-anchor="middle" style="font-size:13.4px;">113</text>
<text x="151.0" y="837.1" class="t" text-anchor="middle" style="font-size:13.4px;">3</text>
<text x="232.0" y="837.1" class="t" text-anchor="middle" style="font-size:13.4px;">98809</text>
<text x="321.0" y="837.1" class="t" text-anchor="middle" style="font-size:13.4px;">305</text>
<text x="595.5" y="837.1" class="t" text-anchor="middle" style="font-size:13.4px;">108</text>
<text x="151.0" y="855.1" class="t" text-anchor="middle" style="font-size:13.4px;">1</text>
<text x="232.0" y="855.1" class="t" text-anchor="middle" style="font-size:13.4px;">80553</text>
<text x="321.0" y="855.1" class="t" text-anchor="middle" style="font-size:13.4px;">590</text>
<text x="595.5" y="855.1" class="t" text-anchor="middle" style="font-size:13.4px;">116</text>
<text x="151.0" y="873.1" class="t" text-anchor="middle" style="font-size:13.4px;">2</text>
<text x="232.0" y="873.1" class="t" text-anchor="middle" style="font-size:13.4px;">98681</text>
<text x="321.0" y="873.1" class="t" text-anchor="middle" style="font-size:13.4px;">506</text>
<text x="595.5" y="873.1" class="t" text-anchor="middle" style="font-size:13.4px;">115</text>
<text x="151.0" y="891.1" class="t" text-anchor="middle" style="font-size:13.4px;">3</text>
<text x="232.0" y="891.1" class="t" text-anchor="middle" style="font-size:13.4px;">115787</text>
<text x="321.0" y="891.1" class="t" text-anchor="middle" style="font-size:13.4px;">353</text>
<text x="595.5" y="891.1" class="t" text-anchor="middle" style="font-size:13.4px;">110</text>
<text x="151.0" y="909.1" class="t" text-anchor="middle" style="font-size:13.4px;">1</text>
<text x="232.0" y="909.1" class="t" text-anchor="middle" style="font-size:13.4px;">91021</text>
<text x="321.0" y="909.1" class="t" text-anchor="middle" style="font-size:13.4px;">638</text>
<text x="595.5" y="909.1" class="t" text-anchor="middle" style="font-size:13.4px;">118</text>
<text x="151.0" y="927.1" class="t" text-anchor="middle" style="font-size:13.4px;">2</text>
<text x="232.0" y="927.1" class="t" text-anchor="middle" style="font-size:13.4px;">112085</text>
<text x="321.0" y="927.1" class="t" text-anchor="middle" style="font-size:13.4px;">554</text>
<text x="595.5" y="927.1" class="t" text-anchor="middle" style="font-size:13.4px;">118</text>
<text x="151.0" y="945.1" class="t" text-anchor="middle" style="font-size:13.4px;">3</text>
<text x="232.0" y="945.1" class="t" text-anchor="middle" style="font-size:13.4px;">135319</text>
<text x="321.0" y="945.1" class="t" text-anchor="middle" style="font-size:13.4px;">381</text>
<text x="595.5" y="945.1" class="t" text-anchor="middle" style="font-size:13.4px;">111</text>
<text x="151.0" y="963.1" class="t" text-anchor="middle" style="font-size:13.4px;">1</text>
<text x="232.0" y="963.1" class="t" text-anchor="middle" style="font-size:13.4px;">113617</text>
<text x="321.0" y="963.1" class="t" text-anchor="middle" style="font-size:13.4px;">656</text>
<text x="595.5" y="963.1" class="t" text-anchor="middle" style="font-size:13.4px;">119</text>
<text x="151.0" y="981.1" class="t" text-anchor="middle" style="font-size:13.4px;">2</text>
<text x="232.0" y="981.1" class="t" text-anchor="middle" style="font-size:13.4px;">126894</text>
<text x="321.0" y="981.1" class="t" text-anchor="middle" style="font-size:13.4px;">606</text>
<text x="595.5" y="981.1" class="t" text-anchor="middle" style="font-size:13.4px;">119</text>
<text x="151.0" y="999.1" class="t" text-anchor="middle" style="font-size:13.4px;">3</text>
<text x="232.0" y="999.1" class="t" text-anchor="middle" style="font-size:13.4px;">147830</text>
<text x="321.0" y="999.1" class="t" text-anchor="middle" style="font-size:13.4px;">459</text>
<text x="595.5" y="999.1" class="t" text-anchor="middle" style="font-size:13.4px;">114</text>
<text x="30.0" y="1018.5" class="t" text-anchor="start" style="font-size:13.4px;"><tspan font-weight="500">说明</tspan> Remark: PAP <tspan font-weight="500">表示不同角度下的最高轴功率</tspan> PAP−peak absorbed power<tspan font-weight="500">。</tspan></text>
<text x="110.0" y="1034.8" class="t" text-anchor="start" style="font-size:13.4px;">RP <tspan font-weight="500">表示不同角度的电机装机容量</tspan> RP−rating motor powe<tspan font-weight="500">。</tspan></text>
</svg></body></html>
